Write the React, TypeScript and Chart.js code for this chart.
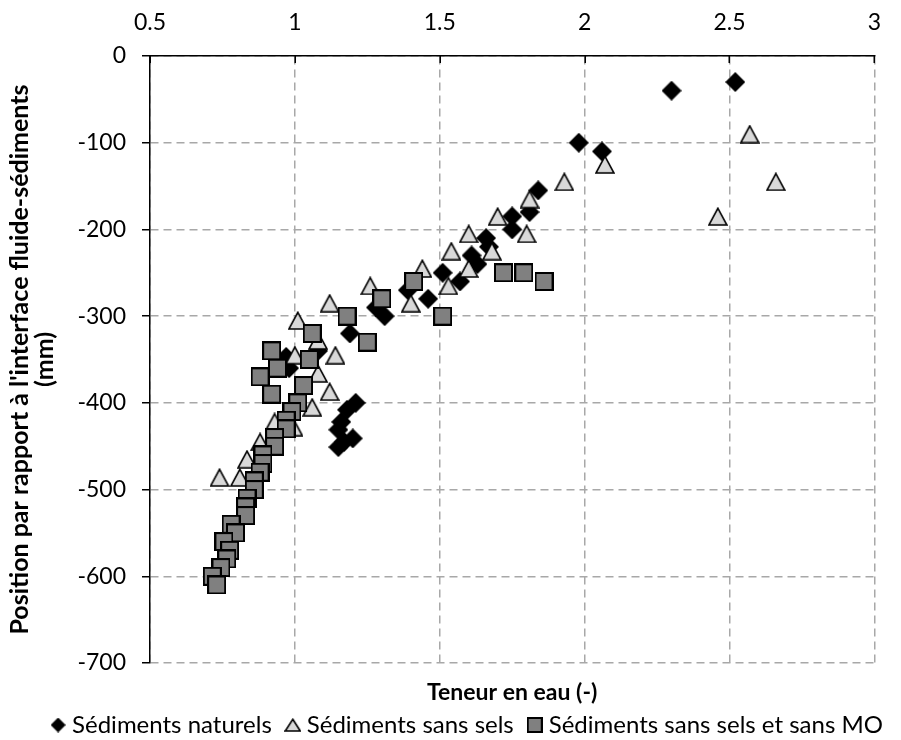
import React, { useEffect, useRef } from "react";
import { Chart, registerables } from "chart.js";

Chart.register(...registerables);

// ---- Data ----
const seriesNames = ["Sédiments naturels", "Sédiments sans sels", "Sédiments sans sels et sans MO"];
const xTitle = "Teneur en eau (-)";
const yTitle = ["Position par rapport à l'interface fluide-sédiments", "(mm)"];
const xTicks = [0.5, 1, 1.5, 2, 2.5, 3];
const yTicks = [0, -100, -200, -300, -400, -500, -600, -700];

const naturelsX = [2.52, 2.30, 1.98, 2.06, 1.84, 1.81, 1.75, 1.75, 1.66, 1.67, 1.61, 1.63, 1.51, 1.57, 1.39, 1.46, 1.28, 1.31, 1.19, 1.08, 0.97, 0.98, 1.21, 1.18, 1.16, 1.15, 1.20, 1.17, 1.15];
const naturelsY = [-30, -40, -100, -110, -155, -180, -185, -200, -210, -220, -230, -240, -250, -260, -270, -280, -290, -300, -320, -340, -347, -360, -400, -408, -422, -431, -441, -445, -451];

const sansSelsX = [2.57, 2.07, 1.93, 2.66, 1.81, 1.70, 2.46, 1.60, 1.80, 1.54, 1.68, 1.44, 1.60, 1.26, 1.53, 1.12, 1.40, 1.01, 1.08, 1.00, 1.14, 1.08, 1.12, 1.06, 0.93, 0.995, 0.88, 0.835, 0.74, 0.81];
const sansSelsY = [-90, -125, -145, -145, -165, -185, -185, -205, -205, -225, -225, -245, -245, -265, -265, -285, -285, -305, -328, -345, -345, -366, -387, -405, -422, -428, -445, -465, -486, -486];

const sansMOX = [1.86, 1.79, 1.72, 1.51, 1.41, 1.30, 1.18, 1.25, 1.06, 0.92, 1.05, 0.94, 0.88, 1.03, 0.92, 1.01, 0.99, 0.97, 0.97, 0.93, 0.93, 0.89, 0.89, 0.88, 0.86, 0.86, 0.835, 0.83, 0.83, 0.78, 0.795, 0.755, 0.775, 0.765, 0.745, 0.715, 0.73];
const sansMOY = [-260, -250, -250, -300, -260, -280, -300, -330, -320, -340, -350, -360, -370, -380, -390, -400, -410, -420, -430, -440, -450, -460, -470, -480, -490, -500, -510, -520, -530, -540, -550, -560, -570, -580, -590, -600, -610];

// ---- Marker images ----
function makeMarker(kind: string, w: number, h: number): HTMLCanvasElement {
  const c = document.createElement("canvas");
  c.width = w;
  c.height = h;
  const g = c.getContext("2d") as CanvasRenderingContext2D;
  if (kind === "diamond") {
    g.fillStyle = "#000";
    g.beginPath();
    g.moveTo(w / 2, 0);
    g.lineTo(w, h / 2);
    g.lineTo(w / 2, h);
    g.lineTo(0, h / 2);
    g.closePath();
    g.fill();
  } else if (kind === "triangle") {
    g.fillStyle = "#d9d9d9";
    g.strokeStyle = "#000";
    g.lineWidth = 1.6;
    g.lineJoin = "miter";
    g.beginPath();
    g.moveTo(w / 2, 1.3);
    g.lineTo(w - 1, h - 1);
    g.lineTo(1, h - 1);
    g.closePath();
    g.fill();
    g.stroke();
  } else {
    g.fillStyle = "#808080";
    g.strokeStyle = "#000";
    g.lineWidth = 2;
    g.fillRect(1, 1, w - 2, h - 2);
    g.strokeRect(1, 1, w - 2, h - 2);
  }
  return c;
}

const innerTicks = {
  id: "innerTicks",
  afterDraw(chart: any) {
    const s = chart.scales.x;
    const ctx = chart.ctx;
    const top = chart.chartArea.top;
    ctx.save();
    ctx.strokeStyle = "#000";
    ctx.lineWidth = 1.5;
    s.ticks.forEach((_t: any, i: number) => {
      const px = Math.round(s.getPixelForTick(i)) + 0.25;
      ctx.beginPath();
      ctx.moveTo(px, top);
      ctx.lineTo(px, top + 7);
      ctx.stroke();
    });
    ctx.restore();
  },
};

const legendShift = {
  id: "legendShift",
  afterLayout(chart: any) {
    const l = chart.legend;
    if (l) {
      l.left += 11;
      l.right += 11;
    }
  },
};

export default function App() {
  const ref = useRef<HTMLCanvasElement>(null);

  useEffect(() => {
    if (!ref.current) return;
    const diamond = makeMarker("diamond", 20, 20);
    const triangle = makeMarker("triangle", 20, 19);
    const square = makeMarker("square", 19, 19);
    const legendMarkers = [
      makeMarker("diamond", 15, 15),
      makeMarker("triangle", 17, 14),
      makeMarker("square", 16, 16),
    ];

    const toPts = (xs: number[], ys: number[]) => xs.map((x, i) => ({ x, y: ys[i] }));

    Chart.defaults.font.family = "Lato";
    Chart.defaults.color = "#000";

    const chart = new Chart(ref.current, {
      type: "scatter",
      data: {
        datasets: [
          { label: seriesNames[0], data: toPts(naturelsX, naturelsY), pointStyle: diamond as any, order: 3, xAxisID: "x", yAxisID: "y" },
          { label: seriesNames[1], data: toPts(sansSelsX, sansSelsY), pointStyle: triangle as any, order: 2, xAxisID: "x", yAxisID: "y" },
          { label: seriesNames[2], data: toPts(sansMOX, sansMOY), pointStyle: square as any, order: 1, xAxisID: "x", yAxisID: "y" },
        ],
      },
      options: {
        animation: false,
        responsive: false,
        layout: { padding: { left: 25, right: 9, top: 0, bottom: 0 } },
        scales: {
          x: {
            type: "linear",
            position: "top",
            min: 0.5,
            max: 3,
            afterBuildTicks(s: any) {
              s.ticks = xTicks.map((v) => ({ value: v }));
            },
            afterFit(s: any) {
              s.height = 56;
            },
            ticks: {
              font: { size: 23 },
              color: "#000",
              padding: 20,
              maxRotation: 0,
              callback: (v: any) => String(v),
            },
            grid: { color: "#a8a8a8", lineWidth: 1.5, drawTicks: false },
            border: { display: true, color: "#000", width: 1.5, dash: [8, 5] },
          },
          x2: {
            type: "linear",
            position: "bottom",
            display: true,
            afterFit(s: any) {
              s.height = 31;
            },
            ticks: { display: false },
            grid: { display: false, drawTicks: false },
            border: { display: false },
            title: {
              display: true,
              text: xTitle,
              font: { size: 23, weight: "bold" },
              color: "#000",
              padding: { top: 0, bottom: -12 },
            },
          },
          y: {
            type: "linear",
            position: "left",
            min: -700,
            max: 0,
            afterBuildTicks(s: any) {
              s.ticks = yTicks.map((v) => ({ value: v }));
            },
            afterFit(s: any) {
              s.width = 125;
            },
            ticks: {
              font: { size: 23 },
              color: "#000",
              padding: 16,
              callback: (v: any) => String(v),
            },
            grid: { color: "#a8a8a8", lineWidth: 1.5, drawTicks: true, tickLength: 8, tickColor: "#000", tickWidth: 1.5 },
            border: { display: true, color: "#000", width: 1.5, dash: [8, 5] },
            title: {
              display: true,
              text: yTitle,
              font: { size: 25, weight: "bold", lineHeight: 1.0 },
              color: "#000",
              padding: { top: -17.5, bottom: 0 },
            },
          },
        },
        plugins: {
          tooltip: { enabled: false },
          legend: {
            position: "bottom",
            maxHeight: 46,
            labels: {
              usePointStyle: true,
              pointStyleWidth: 4,
              padding: 19,
              font: { size: 24 },
              color: "#000",
              generateLabels: (ch: any) =>
                ch.data.datasets.map((ds: any, i: number) => ({
                  text: ds.label,
                  pointStyle: legendMarkers[i],
                  fillStyle: "#000",
                  strokeStyle: "#000",
                  lineWidth: 0,
                  hidden: false,
                  datasetIndex: i,
                  fontColor: "#000",
                })),
            },
          },
        },
      },
      plugins: [innerTicks, legendShift],
    } as any);

    return () => chart.destroy();
  }, []);

  return (
    <div style={{ position: "absolute", left: 0, top: 0, width: 901, height: 740, background: "#fff" }}>
      <canvas ref={ref} width={901} height={740} style={{ display: "block" }} />
    </div>
  );
}
